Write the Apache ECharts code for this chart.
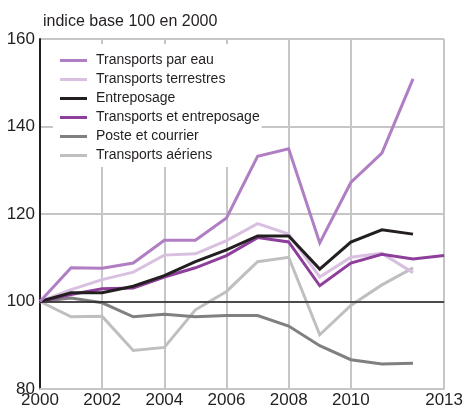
<!DOCTYPE html>
<html>
<head>
<meta charset="utf-8">
<script src="https://cdn.jsdelivr.net/npm/echarts@6/dist/echarts.min.js"></script>
<style>
  html, body { margin: 0; padding: 0; background: #fff; }
  #chart { width: 466px; height: 412px; }
</style>
</head>
<body>
<div id="chart"></div>
<script>
// Indices, base 100 en 2000
const years = [2000, 2001, 2002, 2003, 2004, 2005, 2006, 2007, 2008, 2009, 2010, 2011, 2012, 2013];
const xTickLabels = [2000, 2002, 2004, 2006, 2008, 2010, 2013];
const yTicks = [80, 100, 120, 140, 160];

const transportsParEau       = [100, 107.7, 107.6, 108.8, 114.0, 114.0, 119.1, 133.2, 134.9, 113.4, 127.2, 133.9, 150.9];
const transportsTerrestres   = [100, 102.7, 105.0, 106.7, 110.6, 110.9, 113.9, 117.8, 115.4, 105.6, 110.1, 111.0, 106.6];
const entreposage            = [100, 102.0, 102.0, 103.5, 105.9, 109.1, 111.8, 115.0, 115.0, 107.4, 113.6, 116.4, 115.4];
const transportsEntreposage  = [100, 101.6, 102.9, 103.1, 105.6, 107.7, 110.5, 114.6, 113.6, 103.6, 108.8, 110.8, 109.7, 110.5];
const posteCourrier          = [100, 100.8, 99.7, 96.5, 97.1, 96.5, 96.8, 96.8, 94.4, 89.9, 86.7, 85.7, 85.9];
const transportsAeriens      = [100, 96.5, 96.6, 88.8, 89.5, 98.1, 102.3, 109.1, 110.1, 92.4, 99.1, 103.8, 107.7];

const FONT = '"Liberation Sans Narrow", "Arial Narrow", "Liberation Sans", sans-serif';

function pairs(values) {
  return values.map((v, i) => [years[i], v]);
}

function line(name, values, color, width, z) {
  return {
    name: name,
    type: 'line',
    data: pairs(values),
    symbol: 'none',
    z: z,
    lineStyle: { color: color, width: width, join: 'miter' },
    itemStyle: { color: color }
  };
}

const series = [
  line('Transports aériens', transportsAeriens, '#bfbfbf', 3, 2),
  line('Poste et courrier', posteCourrier, '#808080', 3, 3),
  line('Transports terrestres', transportsTerrestres, '#d9bfe0', 3, 4),
  line('Transports et entreposage', transportsEntreposage, '#8e3f9c', 3, 5),
  line('Entreposage', entreposage, '#231f20', 3, 6),
  line('Transports par eau', transportsParEau, '#b07ec2', 3, 7)
];

// reference line at 100
series[0].markLine = {
  silent: true,
  symbol: 'none',
  label: { show: false },
  lineStyle: { color: '#231f20', width: 1.5, type: 'solid' },
  data: [{ yAxis: 100 }]
};

const chart = echarts.init(document.getElementById('chart'), null, { renderer: 'canvas' });
chart.setOption({
  animation: false,
  backgroundColor: '#fff',
  title: {
    text: 'indice base 100 en 2000',
    left: 38,
    top: 9,
    textStyle: { fontFamily: FONT, fontSize: 16, fontWeight: 'normal', color: '#231f20' }
  },
  grid: { left: 40, right: 19, top: 39, bottom: 23, containLabel: false },
  legend: {
    orient: 'vertical',
    left: 53,
    top: 44,
    z: 1,
    padding: [9, 2, 4, 7],
    itemGap: 4,
    itemWidth: 27,
    itemHeight: 3,
    icon: 'rect',
    backgroundColor: '#fff',
    data: ['Transports par eau', 'Transports terrestres', 'Entreposage',
           'Transports et entreposage', 'Poste et courrier', 'Transports aériens'],
    textStyle: { fontFamily: FONT, fontSize: 14, color: '#231f20', lineHeight: 15, padding: [0, 0, 0, 4] }
  },
  xAxis: {
    type: 'value',
    min: 2000,
    max: 2013,
    axisLine: { show: true, lineStyle: { color: '#c6c6c6', width: 2 } },
    axisTick: { show: false, customValues: [2000, 2002, 2004, 2006, 2008, 2010, 2013] },
    axisLabel: {
      customValues: xTickLabels,
      fontFamily: FONT, fontSize: 17, color: '#231f20', margin: 3,
      formatter: v => String(v)
    },
    splitLine: { show: true, lineStyle: { color: '#c6c6c6', width: 2 } }
  },
  yAxis: {
    type: 'value',
    min: yTicks[0],
    max: yTicks[yTicks.length - 1],
    interval: 20,
    axisLine: { show: true, lineStyle: { color: '#231f20', width: 2 } },
    axisTick: { show: false },
    axisLabel: { fontFamily: FONT, fontSize: 17, color: '#231f20', margin: 5 },
    splitLine: { show: true, lineStyle: { color: '#c6c6c6', width: 2 } }
  },
  series: series
});
</script>
</body>
</html>
